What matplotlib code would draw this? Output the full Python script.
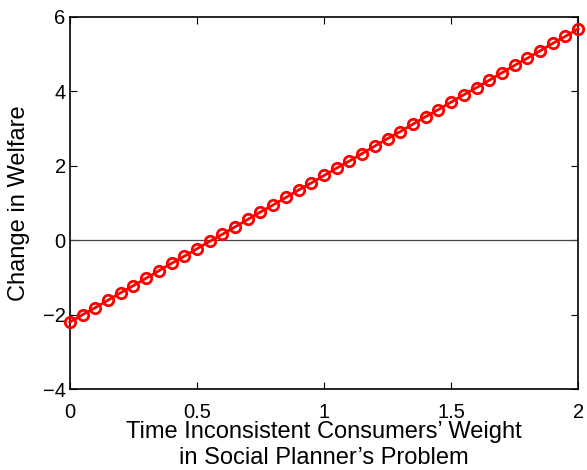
import matplotlib
matplotlib.use("Agg")
import matplotlib.pyplot as plt

# poids des consommateurs incohérents (axe x)
poids = [0.00, 0.05, 0.10, 0.15, 0.20, 0.25, 0.30, 0.35, 0.40, 0.45,
         0.50, 0.55, 0.60, 0.65, 0.70, 0.75, 0.80, 0.85, 0.90, 0.95,
         1.00, 1.05, 1.10, 1.15, 1.20, 1.25, 1.30, 1.35, 1.40, 1.45,
         1.50, 1.55, 1.60, 1.65, 1.70, 1.75, 1.80, 1.85, 1.90, 1.95,
         2.00]
# variation du bien-être
bien_etre = [-2.20, -2.00, -1.81, -1.61, -1.41, -1.22, -1.02, -0.82, -0.62, -0.43,
             -0.23, -0.03, 0.16, 0.36, 0.56, 0.76, 0.95, 1.15, 1.35, 1.54,
             1.74, 1.94, 2.13, 2.33, 2.53, 2.73, 2.92, 3.12, 3.32, 3.51,
             3.71, 3.91, 4.10, 4.30, 4.50, 4.70, 4.89, 5.09, 5.29, 5.48,
             5.68]
xticks = [0, 0.5, 1, 1.5, 2]
xlabels = ["0", "0.5", "1", "1.5", "2"]
yticks = [-4, -2, 0, 2, 4, 6]
ylabels = ["\u22124", "\u22122", "0", "2", "4", "6"]

plt.rcParams["font.family"] = ["Liberation Sans", "DejaVu Sans"]

fig = plt.figure(figsize=(5.87, 4.70), dpi=100)
ax = fig.add_axes([0.119, 0.172, 0.866, 0.792])

ax.plot([0, 2], [0, 0], color="#444444", linewidth=0.9)
ax.plot(poids, bien_etre, color="red", linewidth=2, marker="o",
        markersize=7.5, markerfacecolor="none", markeredgewidth=2,
        clip_on=False, zorder=3)

ax.set_xlim(0, 2)
ax.set_ylim(-4, 6)
ax.set_xticks(xticks)
ax.set_xticklabels(xlabels)
ax.set_yticks(yticks)
ax.set_yticklabels(ylabels)
ax.tick_params(direction="in", top=True, right=True, length=5,
               width=0.8, labelsize=14.5)
ax.tick_params(axis="x", pad=10)
ax.tick_params(axis="y", pad=3)
for s in ax.spines.values():
    s.set_linewidth(1.2)

ax.set_xlabel("Time Inconsistent Consumers\u2019 Weight\nin Social Planner\u2019s Problem",
              fontsize=17, linespacing=1.27)
ax.xaxis.set_label_coords(0.5, -0.085)
ax.set_ylabel("Change in Welfare", fontsize=17)
ax.yaxis.set_label_coords(-0.079, 0.5)

fig.savefig("out.png", dpi=100)
